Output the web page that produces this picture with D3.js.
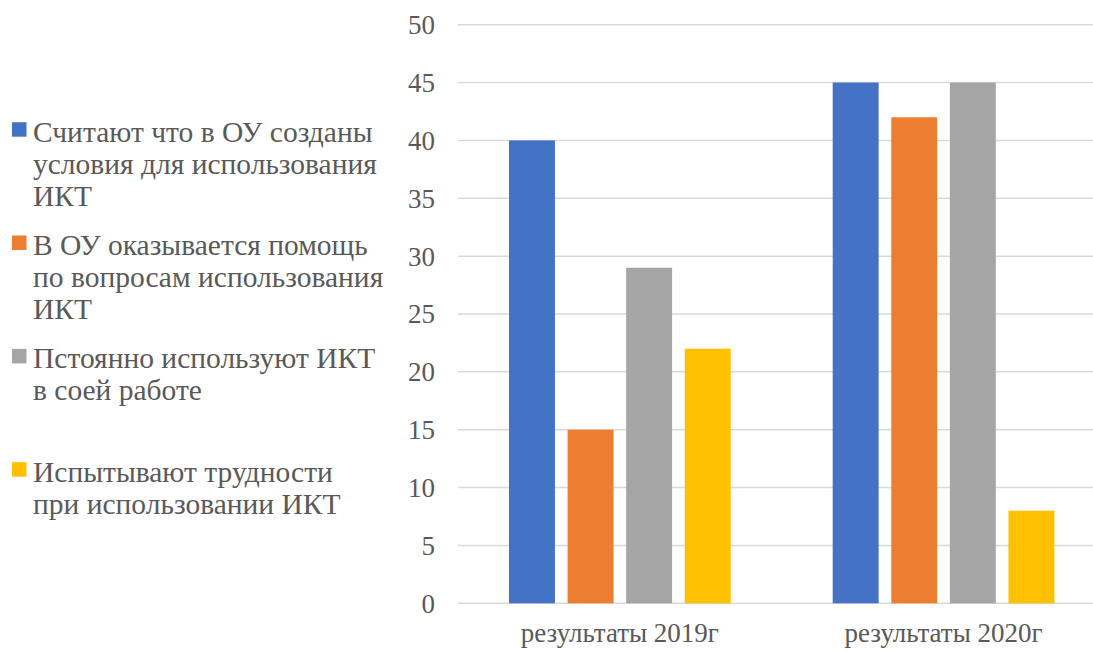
<!DOCTYPE html>
<html>
<head>
<meta charset="utf-8">
<script src="https://cdn.jsdelivr.net/npm/d3@7"></script>
<style>
  html, body { margin: 0; padding: 0; background: #fff; }
  svg { display: block; }
</style>
</head>
<body>
<svg id="chart" width="1093" height="651"></svg>
<script>
const categories = ["результаты 2019г", "результаты 2020г"];
const seriesNames = [
  "Считают что в ОУ созданы условия для использования ИКТ",
  "В ОУ оказывается помощь по вопросам использования ИКТ",
  "Пстоянно используют ИКТ в соей работе",
  "Испытывают трудности при использовании ИКТ"
];
const legendLines = [
  ["Считают что в ОУ созданы", "условия для использования", "ИКТ"],
  ["В ОУ оказывается помощь", "по вопросам использования", "ИКТ"],
  ["Пстоянно используют ИКТ", "в соей работе"],
  ["Испытывают трудности", "при использовании ИКТ"]
];
const series1 = [40, 45];
const series2 = [15, 42];
const series3 = [29, 45];
const series4 = [22, 8];
const yTicks = [0, 5, 10, 15, 20, 25, 30, 35, 40, 45, 50];
const colors = ["#4472C4", "#ED7D31", "#A5A5A5", "#FFC000"];

const seriesValues = [series1, series2, series3, series4];
const FONT = "'Liberation Serif', 'Times New Roman', serif";
const TEXT = "#595959";

const svg = d3.select("#chart");
const plotLeft = 458, plotRight = 1105.4, plotTop = 24.7, plotBottom = 603.3;

const y = d3.scaleLinear().domain([0, 50]).range([plotBottom, plotTop]);
const x0 = d3.scaleBand().domain(categories).range([plotLeft, plotRight]).padding(0);
const groupInset = 51;
const x1 = d3.scaleBand().domain(d3.range(seriesValues.length))
  .range([groupInset, x0.bandwidth() - groupInset])
  .paddingInner(0.216).paddingOuter(0);

// gridlines
svg.append("g").selectAll("line").data(yTicks).join("line")
  .attr("x1", plotLeft).attr("x2", plotRight)
  .attr("y1", d => y(d)).attr("y2", d => y(d))
  .attr("stroke", "#D9D9D9").attr("stroke-width", 1.5);

// y axis labels
const yAxis = d3.axisLeft(y).tickValues(yTicks).tickSize(0).tickPadding(0);
const ya = svg.append("g").attr("transform", `translate(435,0)`).call(yAxis);
ya.select(".domain").remove();
ya.selectAll("text")
  .style("font-family", FONT).style("font-size", "27px").style("fill", TEXT)
  .attr("dy", "0.33em");

// bars
const groups = svg.append("g").selectAll("g").data(categories).join("g")
  .attr("transform", d => `translate(${x0(d)},0)`);
groups.selectAll("rect").data((c, ci) => seriesValues.map((s, si) => ({ si, v: s[ci] })))
  .join("rect")
  .attr("x", d => x1(d.si))
  .attr("width", x1.bandwidth())
  .attr("y", d => y(d.v))
  .attr("height", d => y(0) - y(d.v))
  .attr("fill", d => colors[d.si]);

// x axis labels
const xAxis = d3.axisBottom(x0).tickSize(0).tickPadding(0);
const xa = svg.append("g").attr("transform", `translate(0,${plotBottom})`).call(xAxis);
xa.select(".domain").remove();
xa.selectAll("text")
  .style("font-family", FONT).style("font-size", "27px").style("fill", TEXT)
  .attr("dy", null).attr("y", 38.6);

// legend
const legend = svg.append("g");
const itemBaseline = [141.7, 255, 368.4, 481.7];
legendLines.forEach((lines, i) => {
  const g = legend.append("g").attr("transform", `translate(0,${itemBaseline[i]})`);
  g.append("rect").attr("x", 12).attr("y", -19.5).attr("width", 14.5).attr("height", 14.5).attr("fill", colors[i]);
  g.selectAll("text").data(lines).join("text")
    .attr("x", 33).attr("y", (d, k) => k * 32)
    .style("font-family", FONT).style("font-size", "29.5px").style("fill", TEXT)
    .text(d => d);
});
</script>
</body>
</html>
